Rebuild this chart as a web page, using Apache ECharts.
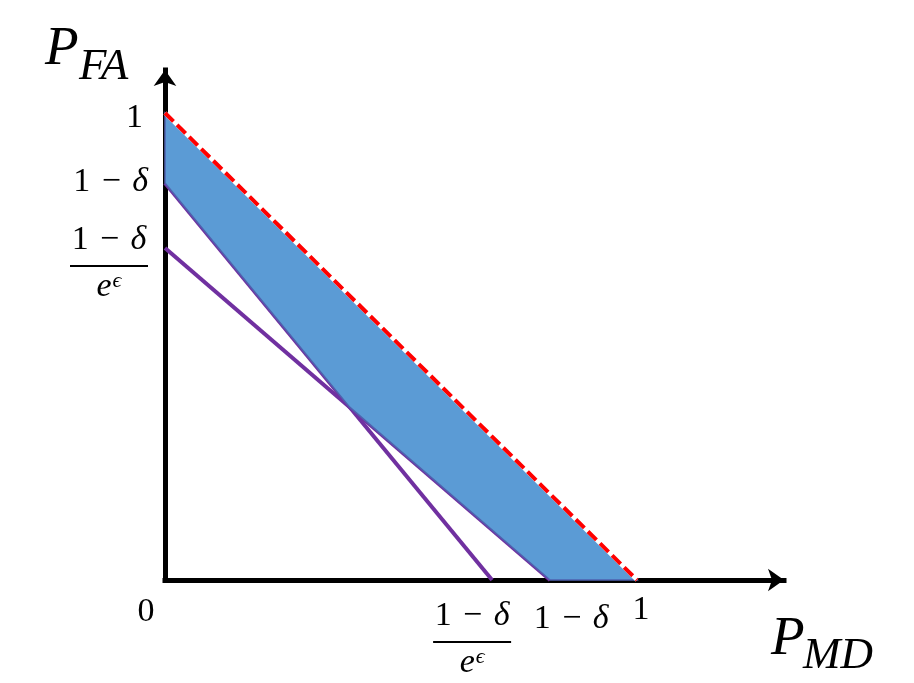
<!DOCTYPE html>
<html>
<head>
<meta charset="utf-8">
<script src="https://cdn.jsdelivr.net/npm/echarts@6/dist/echarts.min.js"></script>
<style>
  html, body { margin: 0; padding: 0; background: #fff; }
  #chart { width: 914px; height: 683px; }
</style>
</head>
<body>
<div id="chart"></div>
<script>
// values, in axis units
var yOneMinusDelta = 0.85;   // 1-δ on P_FA
var yScaled = 0.711;         // (1-δ)/e^ε on P_FA
var xOneMinusDelta = 0.816;  // 1-δ on P_MD
var xScaled = 0.693;         // (1-δ)/e^ε on P_MD

var steepLine = [[0, yOneMinusDelta], [xScaled, 0]];
var shallowLine = [[0, yScaled], [xOneMinusDelta, 0]];
var boundLine = [[0, 1], [1, 0]];

var xTicks = [0, xScaled, xOneMinusDelta, 1];
var xTickLabels = ['0', 'frac', '1 − δ', '1'];
var yTicks = [1, yOneMinusDelta, yScaled];
var yTickLabels = ['1', '1 − δ', 'frac'];

// where the two purple lines cross
function cross(a, b) {
  var k1 = (a[1][1] - a[0][1]) / (a[1][0] - a[0][0]);
  var k2 = (b[1][1] - b[0][1]) / (b[1][0] - b[0][0]);
  var c1 = a[0][1] - k1 * a[0][0];
  var c2 = b[0][1] - k2 * b[0][0];
  var x = (c2 - c1) / (k1 - k2);
  return [x, k1 * x + c1];
}
var region = [boundLine[0], boundLine[1], shallowLine[1], cross(steepLine, shallowLine), steepLine[0]];

var FONT = 'Liberation Serif';
var myChart = echarts.init(document.getElementById('chart'));

var axisCommon = {
  type: 'value',
  min: 0,
  splitLine: { show: false },
  axisTick: { show: false },
  axisLabel: { show: false },
  axisLine: {
    show: true,
    symbol: ['none', 'arrow'],
    symbolSize: [17, 16],
    lineStyle: { color: '#000', width: 5, cap: 'square' }
  }
};

myChart.setOption({
  animation: false,
  grid: { left: 165, right: 130, top: 70, bottom: 103 },
  xAxis: Object.assign({}, axisCommon, { max: 1.3114 }),
  yAxis: Object.assign({}, axisCommon, { max: 1.092 }),
  series: [
    {
      type: 'line', data: steepLine, symbol: 'none', z: 2,
      lineStyle: { color: '#7030A0', width: 4 }
    },
    {
      type: 'line', data: shallowLine, symbol: 'none', z: 2,
      lineStyle: { color: '#7030A0', width: 4 }
    },
    {
      type: 'custom', z: 3,
      data: [[0, 0]],
      renderItem: function (params, api) {
        return {
          type: 'polygon',
          shape: { points: region.map(function (p) { return api.coord(p); }) },
          style: { fill: '#5B9BD5', stroke: '#4F62AE', lineWidth: 1.5 }
        };
      }
    },
    {
      type: 'line', data: boundLine, symbol: 'none', z: 4,
      lineStyle: { color: '#fff', width: 4 }
    },
    {
      type: 'line', data: boundLine, symbol: 'none', z: 5,
      lineStyle: { color: '#FF0000', width: 4, type: [12, 5] }
    }
  ]
});

// labels drawn as text next to the axis positions
function px(v) { return myChart.convertToPixel({ gridIndex: 0 }, v); }

function fnt(size, italic) {
  return { fontFamily: FONT, fontSize: size, fontStyle: italic ? 'italic' : 'normal', fill: '#000' };
}
function txt(text, x, y, size, align, italic) {
  return {
    type: 'text', x: x, y: y, z: 10,
    style: Object.assign({
      text: text,
      align: align, verticalAlign: 'middle',
      textAlign: align, textVerticalAlign: 'middle'
    }, fnt(size, italic))
  };
}
function minusDelta(x, y, align) {
  return {
    type: 'text', x: x, y: y, z: 10,
    style: Object.assign({
      text: '{n|1\u2004−\u2004}{i|δ}',
      align: align, verticalAlign: 'middle',
      textAlign: align, textVerticalAlign: 'middle',
      rich: { n: fnt(34, false), i: fnt(34, true) }
    }, fnt(34, false))
  };
}
function frac(cx, cy) {
  // cy = centre of numerator
  return [
    minusDelta(cx, cy, 'center'),
    {
      type: 'line', z: 10,
      shape: { x1: cx - 39, y1: cy + 26, x2: cx + 39, y2: cy + 26 },
      style: { stroke: '#000', lineWidth: 2 }
    },
    {
      type: 'text', x: cx, y: cy + 47, z: 10,
      style: Object.assign({
        text: '{e|e}{s|ϵ}',
        align: 'center', verticalAlign: 'middle',
        textAlign: 'center', textVerticalAlign: 'middle',
        rich: {
          e: Object.assign(fnt(34, true), { verticalAlign: 'bottom' }),
          s: Object.assign(fnt(22, true), { verticalAlign: 'top', padding: [0, 0, 10, 1] })
        }
      }, fnt(34, true))
    }
  ];
}

var els = [];
yTicks.forEach(function (v, i) {
  var p = px([0, v]);
  var lab = yTickLabels[i];
  if (lab === 'frac') {
    els = els.concat(frac(p[0] - 56, p[1] - 8));
  } else if (lab === '1') {
    els.push(txt(lab, p[0] - 22, p[1] + 5, 34, 'right', false));
  } else {
    els.push(minusDelta(p[0] - 17, p[1] - 1, 'right'));
  }
});
xTicks.forEach(function (v, i) {
  var p = px([v, 0]);
  var lab = xTickLabels[i];
  if (lab === 'frac') {
    els = els.concat(frac(p[0] - 20, p[1] + 36));
  } else if (lab === '0') {
    els.push(txt(lab, p[0] - 19, p[1] + 32, 34, 'center', false));
  } else if (lab === '1') {
    els.push(txt(lab, p[0] + 4, p[1] + 30, 34, 'center', false));
  } else {
    els.push(minusDelta(p[0] + 21, p[1] + 39, 'center'));
  }
});

// axis names
els.push(txt('P', 45, 50, 55, 'left', true));
els.push(txt('FA', 79, 67, 45, 'left', true));
els.push(txt('P', 771, 640, 55, 'left', true));
els.push(txt('MD', 803, 656, 45, 'left', true));

myChart.setOption({ graphic: { elements: els } });
</script>
</body>
</html>
